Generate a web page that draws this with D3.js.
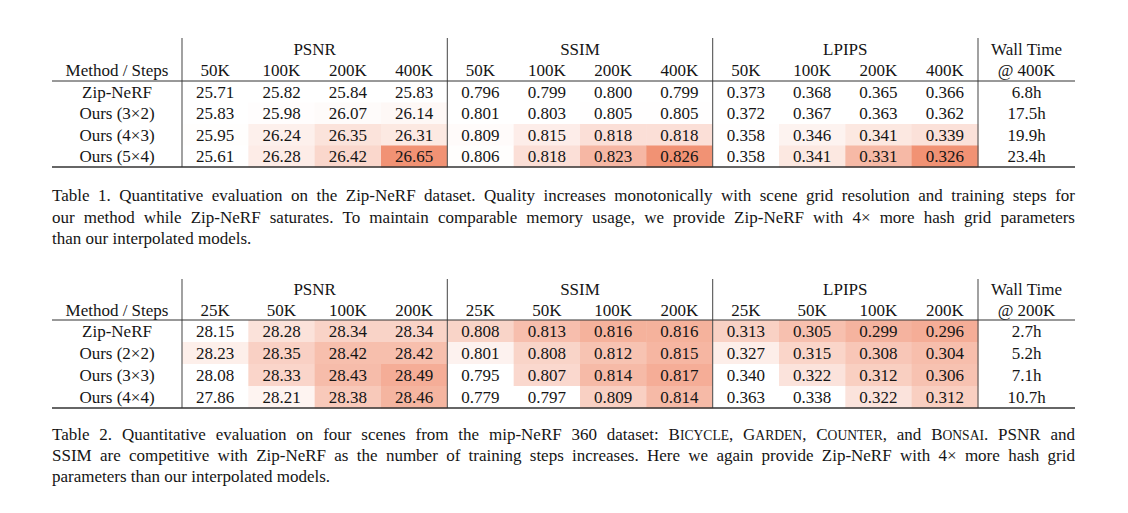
<!DOCTYPE html>
<html>
<head>
<meta charset="utf-8">
<script src="https://cdn.jsdelivr.net/npm/d3@7"></script>
<style>
  body { margin: 0; background: #fff; }
  svg { display: block; }
</style>
</head>
<body>
<svg id="chart" width="1128" height="513"></svg>
<script>
var metrics = ["PSNR", "SSIM", "LPIPS"];
var lowerIsBetter = ["LPIPS"];

var methods1 = ["Zip-NeRF", "Ours (3×2)", "Ours (4×3)", "Ours (5×4)"];
var steps1 = ["50K", "100K", "200K", "400K"];
var psnr1 = [[25.71, 25.82, 25.84, 25.83], [25.83, 25.98, 26.07, 26.14], [25.95, 26.24, 26.35, 26.31], [25.61, 26.28, 26.42, 26.65]];
var ssim1 = [[0.796, 0.799, 0.800, 0.799], [0.801, 0.803, 0.805, 0.805], [0.809, 0.815, 0.818, 0.818], [0.806, 0.818, 0.823, 0.826]];
var lpips1 = [[0.373, 0.368, 0.365, 0.366], [0.372, 0.367, 0.363, 0.362], [0.358, 0.346, 0.341, 0.339], [0.358, 0.341, 0.331, 0.326]];
var wall1 = ["6.8h", "17.5h", "19.9h", "23.4h"];

var methods2 = ["Zip-NeRF", "Ours (2×2)", "Ours (3×3)", "Ours (4×4)"];
var steps2 = ["25K", "50K", "100K", "200K"];
var psnr2 = [[28.15, 28.28, 28.34, 28.34], [28.23, 28.35, 28.42, 28.42], [28.08, 28.33, 28.43, 28.49], [27.86, 28.21, 28.38, 28.46]];
var ssim2 = [[0.808, 0.813, 0.816, 0.816], [0.801, 0.808, 0.812, 0.815], [0.795, 0.807, 0.814, 0.817], [0.779, 0.797, 0.809, 0.814]];
var lpips2 = [[0.313, 0.305, 0.299, 0.296], [0.327, 0.315, 0.308, 0.304], [0.340, 0.322, 0.312, 0.306], [0.363, 0.338, 0.322, 0.312]];
var wall2 = ["2.7h", "5.2h", "7.1h", "10.7h"];

// ^...^ marks small caps
var caption1 = [
  "Table 1. Quantitative evaluation on the Zip-NeRF dataset. Quality increases monotonically with scene grid resolution and training steps for",
  "our method while Zip-NeRF saturates. To maintain comparable memory usage, we provide Zip-NeRF with 4× more hash grid parameters",
  "than our interpolated models."
];
var caption2 = [
  "Table 2. Quantitative evaluation on four scenes from the mip-NeRF 360 dataset: ^Bicycle^, ^Garden^, ^Counter^, and ^Bonsai^. PSNR and",
  "SSIM are competitive with Zip-NeRF as the number of training steps increases. Here we again provide Zip-NeRF with 4× more hash grid",
  "parameters than our interpolated models."
];

// ---- layout ----
var svg = d3.select("#chart")
  .attr("font-family", "'Liberation Serif', serif")
  .attr("fill", "#151515");
var L = { left: 52, right: 1075, methodEnd: 182, metricsEnd: 978 };
var fs = 17;
var hot = "#f19274";

svg.append("rect").attr("width", 1128).attr("height", 513).attr("fill", "#fff");

function drawTable(t) {
  var g = svg.append("g");
  var rowY = d3.scaleBand().domain(t.methods).range([t.mid, t.bottom]);
  var headY = d3.scaleBand().domain(["metric", "step"]).range([t.top, t.mid]);
  var groupX = d3.scaleBand().domain(metrics).range([L.methodEnd, L.metricsEnd]);
  var stepX = d3.scaleBand().domain(t.steps).range([0, groupX.bandwidth()]);
  var methodX = (L.left + L.methodEnd) / 2;
  var wallX = (L.metricsEnd + L.right) / 2;

  // shaded value cells
  metrics.forEach(function(m, mi) {
    var vals = t.values[mi];
    var sign = lowerIsBetter.indexOf(m) >= 0 ? -1 : 1;
    var good = d3.merge(vals).map(function(v) { return sign * v; }).sort(d3.ascending);
    var norm = d3.scaleLinear()
      .domain([d3.quantile(good, t.shade.q), d3.max(good)])
      .range([0, 1]).clamp(true);
    var fill = d3.interpolateRgb("#ffffff", hot);
    var shade = function(v) { return fill(Math.pow(norm(sign * v), t.shade.p) * t.shade.max); };
    var digits = m === "PSNR" ? 2 : 3;

    var cells = [];
    vals.forEach(function(row, ri) {
      row.forEach(function(v, si) {
        cells.push({ method: t.methods[ri], step: t.steps[si], value: v });
      });
    });

    var cg = g.append("g").attr("transform", "translate(" + groupX(m) + ",0)");
    cg.selectAll("rect").data(cells).enter().append("rect")
      .attr("x", function(d) { return stepX(d.step); })
      .attr("y", function(d) { return rowY(d.method); })
      .attr("width", stepX.bandwidth() + 0.5)
      .attr("height", rowY.bandwidth() + 0.5)
      .attr("fill", function(d) { return shade(d.value); });
    cg.selectAll("text.val").data(cells).enter().append("text")
      .attr("class", "val")
      .attr("x", function(d) { return stepX(d.step) + stepX.bandwidth() / 2; })
      .attr("y", function(d) { return rowY(d.method) + rowY.bandwidth() / 2; })
      .attr("dy", "0.34em")
      .attr("font-size", fs)
      .attr("text-anchor", "middle")
      .text(function(d) { return d.value.toFixed(digits); });

    // header labels
    g.append("text")
      .attr("x", groupX(m) + groupX.bandwidth() / 2)
      .attr("y", headY("metric") + headY.bandwidth() / 2)
      .attr("dy", "0.34em").attr("font-size", fs).attr("text-anchor", "middle")
      .text(m);
    cg.selectAll("text.step").data(t.steps).enter().append("text")
      .attr("class", "step")
      .attr("x", function(d) { return stepX(d) + stepX.bandwidth() / 2; })
      .attr("y", headY("step") + headY.bandwidth() / 2)
      .attr("dy", "0.34em").attr("font-size", fs).attr("text-anchor", "middle")
      .text(function(d) { return d; });
  });

  // method names and wall time
  g.selectAll("text.method").data(t.methods).enter().append("text")
    .attr("class", "method")
    .attr("x", methodX)
    .attr("y", function(d) { return rowY(d) + rowY.bandwidth() / 2; })
    .attr("dy", "0.34em").attr("font-size", fs).attr("text-anchor", "middle")
    .text(function(d) { return d; });
  g.selectAll("text.wall").data(t.wall).enter().append("text")
    .attr("class", "wall")
    .attr("x", wallX)
    .attr("y", function(d, i) { return rowY(t.methods[i]) + rowY.bandwidth() / 2; })
    .attr("dy", "0.34em").attr("font-size", fs).attr("text-anchor", "middle")
    .text(function(d) { return d; });

  g.append("text").attr("x", methodX).attr("y", headY("step") + headY.bandwidth() / 2)
    .attr("dy", "0.34em").attr("font-size", fs).attr("text-anchor", "middle")
    .text("Method / Steps");
  g.append("text").attr("x", wallX).attr("y", headY("metric") + headY.bandwidth() / 2)
    .attr("dy", "0.34em").attr("font-size", fs).attr("text-anchor", "middle")
    .text("Wall Time");
  g.append("text").attr("x", wallX).attr("y", headY("step") + headY.bandwidth() / 2)
    .attr("dy", "0.34em").attr("font-size", fs).attr("text-anchor", "middle")
    .text("@ " + t.steps[t.steps.length - 1]);

  // rules
  var vx = metrics.map(function(m) { return groupX(m); }).concat([L.metricsEnd]);
  g.selectAll("line.v").data(vx).enter().append("line")
    .attr("x1", function(d) { return d; }).attr("x2", function(d) { return d; })
    .attr("y1", t.top).attr("y2", t.bottom)
    .attr("stroke", "#555").attr("stroke-width", 1.1);
  g.append("line").attr("x1", L.left).attr("x2", L.right)
    .attr("y1", t.mid).attr("y2", t.mid)
    .attr("stroke", "#333").attr("stroke-width", 1);
  g.append("line").attr("x1", L.left).attr("x2", L.right)
    .attr("y1", t.bottom).attr("y2", t.bottom)
    .attr("stroke", "#333").attr("stroke-width", 1.5);
}

// word with optional small-caps parts
function addWord(sel, word, size) {
  word.split("^").forEach(function(part, pi) {
    if (!part) return;
    if (pi % 2 === 0) {
      sel.append("tspan").attr("font-size", size).text(part);
      return;
    }
    var runs = [];
    part.split("").forEach(function(ch) {
      var big = ch === ch.toUpperCase();
      var last = runs[runs.length - 1];
      if (last && last.big === big) last.s += ch.toUpperCase();
      else runs.push({ big: big, s: ch.toUpperCase() });
    });
    runs.forEach(function(r) {
      sel.append("tspan").attr("font-size", r.big ? size : size * 0.8).text(r.s);
    });
  });
}

// justified caption, last line ragged
function drawCaption(lines, y0, lh, size) {
  var g = svg.append("g");
  lines.forEach(function(line, li) {
    var words = line.split(" ");
    var y = y0 + li * lh;
    var nodes = words.map(function(w) {
      var t = g.append("text").attr("y", y).attr("font-size", size);
      addWord(t, w, size);
      return t;
    });
    var widths = nodes.map(function(n) { return n.node().getComputedTextLength(); });
    var isLast = li === lines.length - 1;
    var gap = isLast ? size * 0.25 : (L.right - L.left - d3.sum(widths)) / (words.length - 1);
    var x = L.left;
    nodes.forEach(function(n, i) {
      n.attr("x", x);
      x += widths[i] + gap;
    });
  });
}

drawTable({ top: 38, mid: 81, bottom: 167, methods: methods1, steps: steps1,
  values: [psnr1, ssim1, lpips1], wall: wall1, shade: { q: 0, p: 4, max: 1 } });
drawTable({ top: 279, mid: 320, bottom: 408, methods: methods2, steps: steps2,
  values: [psnr2, ssim2, lpips2], wall: wall2, shade: { q: 0.15, p: 1, max: 0.75 } });

drawCaption(caption1, 201, 21.5, 17);
drawCaption(caption2, 440, 21, 17);
</script>
</body>
</html>
